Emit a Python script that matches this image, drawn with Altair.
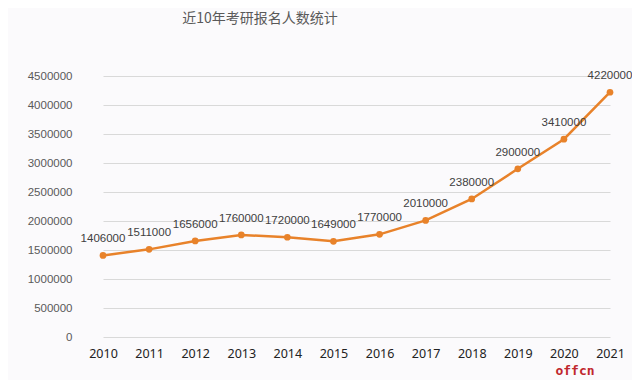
import altair as alt
import pandas as pd

years = ["2010", "2011", "2012", "2013", "2014", "2015", "2016", "2017", "2018", "2019", "2020", "2021"]
values = [1406000, 1511000, 1656000, 1760000, 1720000, 1649000, 1770000, 2010000, 2380000, 2900000, 3410000, 4220000]
y_ticks = [0, 500000, 1000000, 1500000, 2000000, 2500000, 3000000, 3500000, 4000000, 4500000]
title_text = "近10年考研报名人数统计"
mark_text = "offcn"

df = pd.DataFrame({"year": years, "value": values})

orange = "#e8822a"

x = alt.X("year:O", sort=years, title=None,
          scale=alt.Scale(type="point", range=[23, 530], padding=0),
          axis=alt.Axis(labelAngle=0, labelFont="Noto Sans", labelFontSize=12.5,
                        labelColor="#222222", tickSize=0, domain=False,
                        labelPadding=10, grid=False))
y = alt.Y("value:Q", title=None,
          scale=alt.Scale(domain=[0, 4500000], nice=False),
          axis=alt.Axis(values=y_ticks, format="d", labelFont="Liberation Sans",
                        labelFontSize=11.5, labelColor="#595959", tickSize=0,
                        domain=False, labelPadding=8, gridColor="#d9d9d9",
                        gridWidth=1))

base = alt.Chart(df).encode(x=x, y=y)
line = base.mark_line(color=orange, strokeWidth=2.5)
pts = base.mark_circle(color=orange, size=45, opacity=1)
labels = base.mark_text(dy=-16, font="Liberation Sans", fontSize=11.5,
                        color="#404040").encode(text=alt.Text("value:Q", format="d"))

title = alt.Chart(pd.DataFrame({"t": [title_text]})).mark_text(
    font="Noto Sans CJK SC", fontSize=14, color="#595959"
).encode(x=alt.value(180), y=alt.value(-57), text="t:N")

wm = alt.Chart(pd.DataFrame({"t": [mark_text]})).mark_text(
    font="DejaVu Sans Mono", fontSize=13, color="#c0272d", fontWeight="bold"
).encode(x=alt.value(495), y=alt.value(295), text="t:N")

chart = alt.layer(line, pts, labels, title, wm).properties(
    width=540, height=261,
    padding={"left": 72, "top": 68, "right": 12, "bottom": 43},
    autosize=alt.AutoSizeParams(type="none"),
    background="#fbfafc",
).configure_view(stroke=None)

chart.save("out.html", embed_options={"renderer": "svg", "actions": False})
